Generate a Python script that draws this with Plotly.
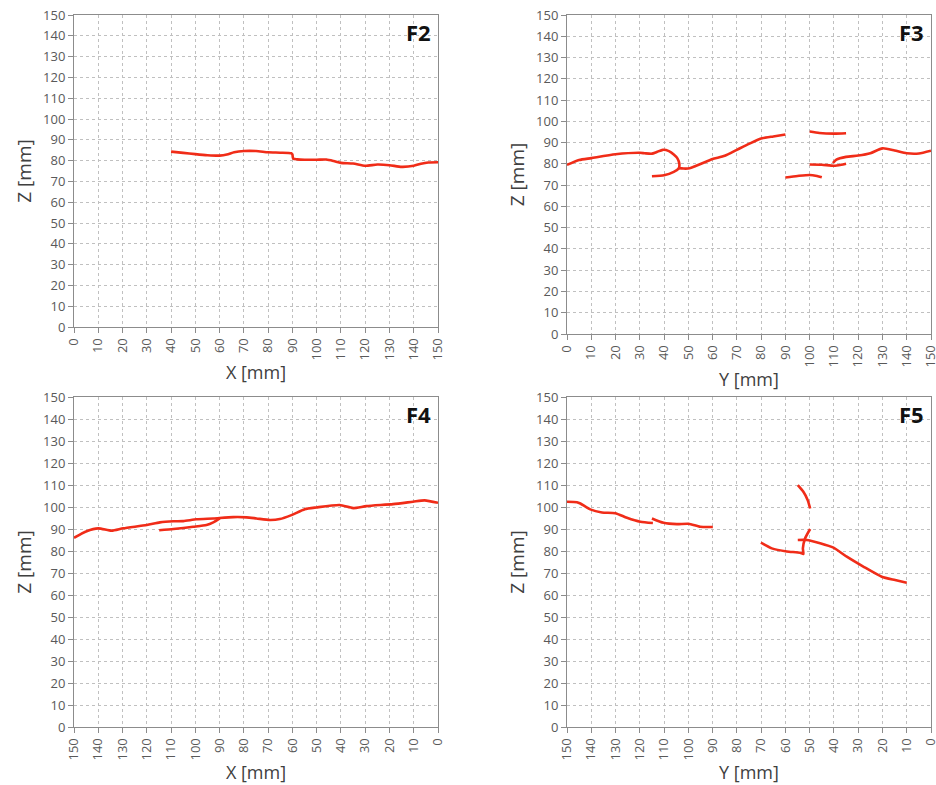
import plotly.graph_objects as go

# ---------------- data ----------------
# F2 : X [mm] vs Z [mm]
f2_x = [40, 45, 50, 55, 60, 63, 66, 70, 75, 80, 85, 89.5, 90, 90.3, 92, 95, 100, 104, 107, 110, 115, 120, 125, 130, 135, 140, 143, 146, 150]
f2_z = [84.3, 83.7, 83.1, 82.6, 82.4, 82.9, 84.0, 84.6, 84.6, 84.0, 83.8, 83.5, 83.0, 81.0, 80.6, 80.4, 80.4, 80.5, 79.8, 78.9, 78.6, 77.5, 78.1, 77.8, 77.0, 77.5, 78.5, 79.1, 79.2]

# F3 : Y [mm] vs Z [mm] (several separate segments)
f3_segments = [
    ([35, 40, 44, 46, 46.3, 45.5, 44, 42, 39.5, 37, 35, 32, 30, 20, 10, 5, 0],
     [74.2, 74.6, 76.2, 77.8, 80.0, 82.6, 84.4, 86.0, 86.6, 85.6, 84.8, 85.0, 85.2, 84.5, 82.7, 81.8, 79.5]),
    ([46, 48, 50.5, 53, 57, 60, 65, 70, 75, 80, 85, 90],
     [78.0, 77.8, 77.9, 79.0, 80.9, 82.3, 83.8, 86.6, 89.4, 91.9, 92.9, 93.8]),
    ([90, 95, 100, 103, 105],
     [73.6, 74.3, 74.8, 74.3, 73.7]),
    ([100, 104, 110, 115],
     [95.2, 94.5, 94.2, 94.4]),
    ([100, 105, 110, 113, 115],
     [79.7, 79.6, 79.1, 79.6, 80.1]),
    ([109.6, 111, 115, 120, 125, 130, 135, 140, 145, 150],
     [80.4, 82.0, 83.3, 83.9, 85.0, 87.3, 86.3, 85.0, 84.9, 86.2]),
]

# F4 : X [mm] (reversed) vs Z [mm]
f4_main_x = [150, 144.8, 140, 134.5, 129.7, 120, 114.6, 109, 105, 99.5, 92.6, 84.4, 78.9, 74.8, 69.3, 65.2, 60.4, 54.9, 50.1, 40.5, 35, 29.5, 18.5, 10.3, 5.5, 0]
f4_main_z = [86.0, 89.0, 90.3, 89.2, 90.3, 91.8, 93.0, 93.5, 93.6, 94.4, 94.8, 95.4, 95.3, 94.8, 94.1, 94.5, 96.3, 99.0, 99.8, 100.9, 99.5, 100.4, 101.3, 102.4, 103.0, 101.9]
f4_sec_x = [114.9, 109, 100.9, 95.4, 92.6, 89.9]
f4_sec_z = [89.4, 90.0, 91.0, 91.8, 93.0, 94.8]

# F5 : Y [mm] (reversed) vs Z [mm] (several separate segments)
f5_segments = [
    ([150, 145.9, 144.5, 140.4, 135.6, 130.1, 125.3, 119.8, 114.6],
     [102.4, 102.2, 101.6, 98.9, 97.5, 97.2, 95.1, 93.3, 92.7]),
    ([115, 110.2, 104.7, 99.9, 95.1, 89.9],
     [94.8, 92.8, 92.2, 92.4, 91.0, 90.9]),
    ([70.1, 65.6, 59.4, 53.9, 52.6, 52.8, 51.9, 49.8],
     [83.8, 81.2, 79.8, 79.2, 78.6, 81.2, 85.7, 90.0]),
    ([54.9, 51.2, 45.7, 40.2, 34.7, 27.9, 20.3, 14.8, 10],
     [85.0, 85.0, 83.5, 81.5, 77.4, 72.9, 68.3, 66.8, 65.6]),
    ([54.9, 52.6, 50.8, 49.8],
     [109.9, 106.9, 103.1, 99.3]),
]

panel_labels = ["F2", "F3", "F4", "F5"]
x_titles = ["X [mm]", "Y [mm]", "X [mm]", "Y [mm]"]
y_title = "Z [mm]"
tick_vals = list(range(0, 151, 10))

# ---------------- figure ----------------
RED = "#f02c18"
FONT = "Open Sans"
fig = go.Figure()

def add_line(xs, zs, ax):
    fig.add_trace(go.Scatter(
        x=xs, y=zs, mode="lines", xaxis="x" + ax, yaxis="y" + ax,
        line=dict(color=RED, width=2.6, shape="spline", smoothing=0.6),
        showlegend=False, hoverinfo="x+y"))

add_line(f2_x, f2_z, "")
for xs, zs in f3_segments:
    add_line(xs, zs, "2")
add_line(f4_main_x, f4_main_z, "3")
add_line(f4_sec_x, f4_sec_z, "3")
for xs, zs in f5_segments:
    add_line(xs, zs, "4")

W, H = 936, 785
ML, MR, MT, MB = 74, 5, 15, 58
IW, IH = W - ML - MR, H - MT - MB

def px(a, b):
    return [(a - ML) / IW, (b - ML) / IW]
def py(top, bottom):
    return [(H - MB - bottom) / IH, (H - MB - top) / IH]

domains = [
    (px(74, 438), py(15, 327)),
    (px(567, 931), py(15, 334)),
    (px(74, 438), py(397, 727)),
    (px(567, 931), py(397, 727)),
]
reversed_x = [False, False, True, True]

axis_common = dict(
    showgrid=True, gridcolor="#c0c0c0", griddash="dot", gridwidth=1,
    showline=True, linecolor="#8c8c8c", linewidth=1, mirror=True,
    ticks="outside", ticklen=5, tickcolor="#8c8c8c",
    tickfont=dict(family=FONT, size=13, color="#595959"),
    zeroline=False, tickmode="array", tickvals=tick_vals,
    automargin=False, ticklabeloverflow="allow",
)

layout = dict(
    width=W, height=H, margin=dict(l=ML, r=MR, t=MT, b=MB),
    paper_bgcolor="white", plot_bgcolor="white",
    font=dict(family=FONT),
)
annotations = []
for i in range(4):
    sfx = "" if i == 0 else str(i + 1)
    xd, yd = domains[i]
    xa = dict(axis_common)
    xa.update(domain=[max(0, xd[0]), min(1, xd[1])], anchor="y" + sfx, tickangle=-90,
              range=[150, 0] if reversed_x[i] else [0, 150],
              title=dict(text=x_titles[i], font=dict(family=FONT, size=18, color="#404040"), standoff=6))
    ya = dict(axis_common)
    ya.update(domain=[max(0, yd[0]), min(1, yd[1])], anchor="x" + sfx, range=[0, 150],
              title=dict(text=y_title, font=dict(family=FONT, size=19, color="#404040"), standoff=6))
    layout["xaxis" + sfx] = xa
    layout["yaxis" + sfx] = ya
    annotations.append(dict(
        text="<b>" + panel_labels[i] + "</b>", x=0.985, y=1.0,
        xref="x" + sfx + " domain", yref="y" + sfx + " domain",
        xanchor="right", yanchor="top", showarrow=False,
        font=dict(family=FONT, size=22, color="#111111")))
layout["annotations"] = annotations
fig.update_layout(**layout)

fig.write_html("out.html", config={"displayModeBar": False},
               post_script="document.body.style.margin='0px';")
